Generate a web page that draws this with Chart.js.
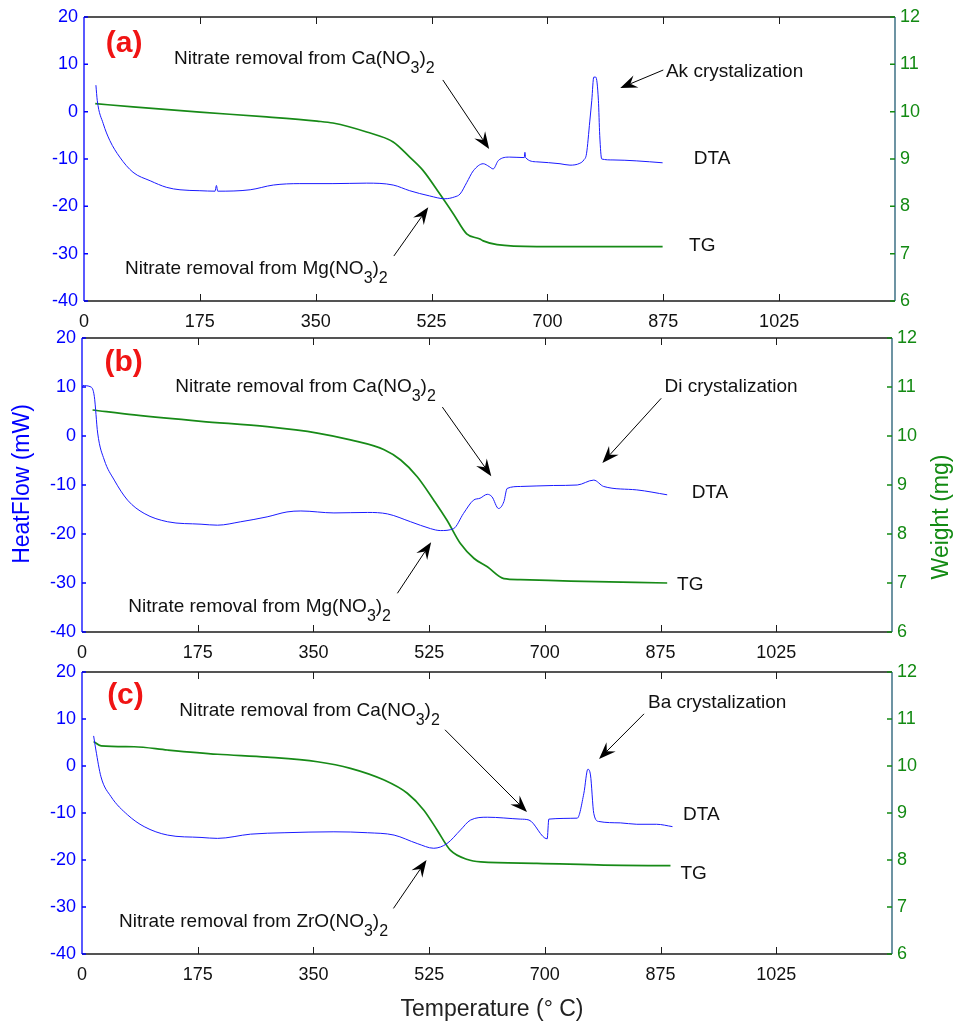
<!DOCTYPE html>
<html><head><meta charset="utf-8">
<script src="https://cdn.jsdelivr.net/npm/chart.js@4.4.1/dist/chart.umd.min.js"></script>
<style>
html,body{margin:0;padding:0;background:#fff;}
#wrap{position:relative;width:954px;height:1022px;background:#fff;}
canvas{position:absolute;left:0;top:0;}
</style></head><body>
<div id="wrap">
<canvas id="ca" width="954" height="1022"></canvas>
<canvas id="cb" width="954" height="1022"></canvas>
<canvas id="cc" width="954" height="1022"></canvas>
</div>
<script>
// ---------- data ----------
// Panel (a)
const tempDtaA = [18,20,29,39,54,74,100,125,145,175,198,200,202,251,286,326,376,427,467,492,522,545,560,568,578,588,603,612,618,626,643,665,666,667,684,719,734,749,755,759,764,767,770,773,777,779,782,799,835,874];
const dtaA     = [5.6,2.4,-2.5,-6.1,-9.6,-12.8,-14.6,-16.0,-16.5,-16.7,-16.8,-15.6,-16.8,-16.5,-15.5,-15.2,-15.2,-15.1,-15.5,-16.7,-17.8,-18.4,-18.0,-17.4,-15.0,-12.5,-11.0,-11.6,-12.1,-10.3,-9.6,-9.7,-8.6,-9.7,-10.6,-11.0,-11.3,-10.9,-10.2,-8.9,-2.0,2.4,7.3,7.3,2.4,-5.0,-10.0,-10.2,-10.4,-10.8];
const tempTgA  = [17,74,175,276,352,376,427,467,492,512,537,558,578,598,603,624,684,874];
const tgA      = [10.17,10.10,9.99,9.89,9.80,9.76,9.57,9.36,9.04,8.76,8.27,7.84,7.42,7.31,7.27,7.19,7.15,7.15];
// Panel (b)
const tempDtaB = [1,13.6,18.6,23.7,33.7,48.8,69,94,129.5,180,205,240,280,310,331,381,432,462,497,527,542,562,577,592,602,613,620,630,638,643,663,713,749,774,789,839,885];
const dtaB     = [10.3,10.0,8.1,0.6,-4.9,-9.0,-13.1,-15.8,-17.5,-18.0,-18.2,-17.5,-16.5,-15.5,-15.3,-15.7,-15.6,-15.9,-17.5,-18.9,-19.3,-18.9,-15.8,-13.1,-12.7,-11.9,-12.4,-14.8,-13.4,-10.7,-10.3,-10.1,-10.0,-9.0,-10.3,-11.0,-12.0];
const tempTgB  = [16,79,180,280,356,406,457,482,507,532,552,572,593,613,638,663,739,885];
const tgB      = [10.53,10.43,10.30,10.19,10.06,9.92,9.72,9.51,9.17,8.69,8.28,7.81,7.50,7.33,7.09,7.07,7.04,7.00];
// Panel (c)
const tempDtaC = [17.6,21,28.7,43.8,69,94,129.5,180,205,255,305.6,381,432,472,507,532,552,572.5,587.6,613,663,676,703.5,706,749,759,765,769,774,781.5,814,839,869,893];
const dtaC     = [6.4,3.4,-2.3,-6.5,-10.4,-12.9,-14.7,-15.2,-15.4,-14.5,-14.2,-14.0,-14.2,-14.7,-16.5,-17.5,-16.5,-13.6,-11.5,-10.9,-11.3,-11.5,-15.5,-11.3,-11.1,-5.8,-0.7,-1.9,-10.1,-11.8,-12.1,-12.4,-12.4,-12.9];
const tempTgC  = [17.6,29,79,129.5,205,280,356,406,457,492,517,537,557,583,603,688,789,890];
const tgC      = [10.52,10.43,10.41,10.34,10.25,10.19,10.09,9.95,9.70,9.42,9.06,8.64,8.21,8.01,7.96,7.93,7.89,7.88];

// ticks
const xTickValues  = [0,175,350,525,700,875,1050,1225];
const xTickLabels  = ['0','175','350','525','700','875','1025',''];
const heatTicks    = [-40,-30,-20,-10,0,10,20];
const weightTicks  = [6,7,8,9,10,11,12];

// annotation texts ("_x" = subscript x)
const panelLabels = ['(a)','(b)','(c)'];
const textsA = ['Nitrate removal from Ca(NO_3)_2','Ak crystalization','DTA','TG','Nitrate removal from Mg(NO_3)_2'];
const textsB = ['Nitrate removal from Ca(NO_3)_2','Di crystalization','DTA','TG','Nitrate removal from Mg(NO_3)_2'];
const textsC = ['Nitrate removal from Ca(NO_3)_2','Ba crystalization','DTA','TG','Nitrate removal from ZrO(NO_3)_2'];
// annotation anchors in data units (temperature, heat flow) : label, then texts (left, baseline)
const anchorsA = [[33,12.6],[136,10.06],[879,7.3],[921,-11.1],[914,-29.5],[62,-34.4]];
const anchorsB = [[34,13.3],[141,9.0],[881,9.0],[922,-12.7],[900,-31.5],[70,-36.0]];
const anchorsC = [[38,13.2],[147,10.7],[856,12.4],[909,-11.5],[905,-24.1],[56,-34.3]];
// arrows: [fromT, fromHF, tipT, tipHF]
const arrowsA = [[542,6.7,612,-7.9],[875,8.8,810,5.0],[468,-30.5,520,-20.2]];
const arrowsB = [[545,5.9,619,-8.2],[876,7.7,787,-5.5],[477,-32.1,528,-21.7]];
const arrowsC = [[549,7.7,673,-9.8],[850,11.1,782,1.5],[471,-30.3,521,-20.0]];

// ---------- styling ----------
const FONT = "'Liberation Sans', Arial, Helvetica, sans-serif";
const BLUE = '#0000ff';
const LINEBLUE = '#1a1aff';
const GREEN = '#138a13';
const LINEGREEN = '#178a17';
const RIGHTAXIS = '#1f5a72';
const FRAME = '#1c1c1c';
const AXW = 60;   // fixed width of the y axes boxes
const AXH = 40;   // fixed height of the x axis box

function drawRich(ctx, str, x, y, size) {
  let cx = x;
  let i = 0;
  while (i < str.length) {
    if (str[i] === '_' && i + 1 < str.length) {
      ctx.font = (size - 3) + 'px ' + FONT;
      ctx.fillText(str[i+1], cx, y + 9);
      cx += ctx.measureText(str[i+1]).width;
      i += 2;
    } else {
      let j = i;
      while (j < str.length && str[j] !== '_') j++;
      const seg = str.slice(i, j);
      ctx.font = size + 'px ' + FONT;
      ctx.fillText(seg, cx, y);
      cx += ctx.measureText(seg).width;
      i = j;
    }
  }
}

function drawArrow(ctx, x1, y1, x2, y2) {
  const a = Math.atan2(y2 - y1, x2 - x1);
  const c = Math.cos(a), s = Math.sin(a);
  const L = 17, W = 6.5, N = 11;
  ctx.strokeStyle = '#000';
  ctx.lineWidth = 1;
  ctx.beginPath();
  ctx.moveTo(x1, y1);
  ctx.lineTo(x2 - N * c, y2 - N * s);
  ctx.stroke();
  ctx.fillStyle = '#000';
  ctx.beginPath();
  ctx.moveTo(x2, y2);
  ctx.lineTo(x2 - L * c - W * s, y2 - L * s + W * c);
  ctx.lineTo(x2 - N * c, y2 - N * s);
  ctx.lineTo(x2 - L * c + W * s, y2 - L * s - W * c);
  ctx.closePath();
  ctx.fill();
}

const decor = {
  id: 'decor',
  afterDraw(chart, args, opts) {
    const ctx = chart.ctx;
    const {left, right, top, bottom} = chart.chartArea;
    const xs = chart.scales.x, ys = chart.scales.y, y2 = chart.scales.y2;
    ctx.save();
    // frame
    ctx.lineWidth = 1.3;
    ctx.strokeStyle = FRAME;
    ctx.beginPath();
    ctx.moveTo(left, top); ctx.lineTo(right, top);
    ctx.moveTo(left, bottom); ctx.lineTo(right, bottom);
    ctx.stroke();
    ctx.strokeStyle = BLUE;
    ctx.beginPath(); ctx.moveTo(left, top); ctx.lineTo(left, bottom); ctx.stroke();
    ctx.strokeStyle = RIGHTAXIS;
    ctx.beginPath(); ctx.moveTo(right, top); ctx.lineTo(right, bottom); ctx.stroke();
    // x tick marks (inward, top & bottom)
    ctx.strokeStyle = FRAME; ctx.lineWidth = 1;
    ctx.beginPath();
    xTickValues.forEach(v => {
      if (v <= xs.min || v >= xs.max) return;
      const px = Math.round(xs.getPixelForValue(v)) + 0.5;
      ctx.moveTo(px, top); ctx.lineTo(px, top + 7);
      ctx.moveTo(px, bottom); ctx.lineTo(px, bottom - 7);
    });
    ctx.stroke();
    // y tick marks
    ctx.strokeStyle = BLUE; ctx.lineWidth = 1.5;
    ctx.beginPath();
    heatTicks.forEach(v => {
      const py = ys.getPixelForValue(v);
      ctx.moveTo(left, py); ctx.lineTo(left + 4, py);
    });
    ctx.stroke();
    ctx.strokeStyle = GREEN;
    ctx.beginPath();
    weightTicks.forEach(v => {
      const py = y2.getPixelForValue(v);
      ctx.moveTo(right, py); ctx.lineTo(right - 5, py);
    });
    ctx.stroke();
    // panel label
    const P = opts.panel;
    const lab = P.anchors[0];
    ctx.fillStyle = '#f01414';
    ctx.font = 'bold 30px ' + FONT;
    ctx.textBaseline = 'alphabetic';
    ctx.textAlign = 'left';
    ctx.fillText(P.label, xs.getPixelForValue(lab[0]), ys.getPixelForValue(lab[1]));
    // texts
    ctx.fillStyle = '#111';
    P.texts.forEach((t, i) => {
      const an = P.anchors[i + 1];
      drawRich(ctx, t, xs.getPixelForValue(an[0]), ys.getPixelForValue(an[1]), 19);
    });
    // arrows
    P.arrows.forEach(a => {
      drawArrow(ctx, xs.getPixelForValue(a[0]), ys.getPixelForValue(a[1]),
                     xs.getPixelForValue(a[2]), ys.getPixelForValue(a[3]));
    });
    // axis titles
    if (P.yTitles) {
      ctx.font = '23px ' + FONT;
      ctx.textAlign = 'center';
      ctx.textBaseline = 'middle';
      ctx.save();
      ctx.translate(23, 484);
      ctx.rotate(-Math.PI / 2);
      ctx.fillStyle = BLUE;
      ctx.fillText('HeatFlow (mW)', 0, 0);
      ctx.restore();
      ctx.save();
      ctx.translate(942, 517);
      ctx.rotate(-Math.PI / 2);
      ctx.fillStyle = GREEN;
      ctx.fillText('Weight (mg)', 0, 0);
      ctx.restore();
    }
    if (P.xTitle) {
      ctx.font = '23px ' + FONT;
      ctx.textAlign = 'center';
      ctx.textBaseline = 'middle';
      ctx.fillStyle = '#222';
      ctx.fillText('Temperature (° C)', 492, 1010);
    }
    ctx.restore();
  }
};

function pts(tArr, vArr) { return tArr.map((t, i) => ({x: t, y: vArr[i]})); }

function makeChart(id, P) {
  return new Chart(document.getElementById(id), {
    type: 'line',
    data: {
      datasets: [
        {data: pts(P.tDta, P.dta), yAxisID: 'y', borderColor: LINEBLUE, borderWidth: 1,
         pointRadius: 0, fill: false, cubicInterpolationMode: 'monotone'},
        {data: pts(P.tTg, P.tg), yAxisID: 'y2', borderColor: LINEGREEN, borderWidth: 1.7,
         pointRadius: 0, fill: false, cubicInterpolationMode: 'monotone'}
      ]
    },
    options: {
      responsive: false, animation: false, devicePixelRatio: 1, events: [],
      layout: {padding: {left: P.box[0] - AXW, top: P.box[1], right: 954 - P.box[2] - AXW, bottom: 1022 - P.box[3] - AXH}},
      plugins: {legend: {display: false}, tooltip: {enabled: false}, decor: {panel: P}},
      scales: {
        x: {
          type: 'linear', position: 'bottom', min: 0, max: 1225,
          grid: {display: false, drawTicks: false}, border: {display: false},
          afterBuildTicks: s => { s.ticks = xTickValues.map(v => ({value: v})); },
          afterFit: s => { s.height = AXH; },
          ticks: {autoSkip: false, maxRotation: 0, padding: 10, color: '#111',
                  font: {family: FONT, size: 18}, callback: (v, i) => xTickLabels[i]}
        },
        y: {
          type: 'linear', position: 'left', min: -40, max: 20,
          grid: {display: false, drawTicks: false}, border: {display: false},
          afterBuildTicks: s => { s.ticks = heatTicks.map(v => ({value: v})); },
          afterFit: s => { s.width = AXW; },
          ticks: {padding: 6, color: BLUE, font: {family: FONT, size: 18}}
        },
        y2: {
          type: 'linear', position: 'right', min: 6, max: 12,
          grid: {display: false, drawTicks: false}, border: {display: false},
          afterBuildTicks: s => { s.ticks = weightTicks.map(v => ({value: v})); },
          afterFit: s => { s.width = AXW; },
          ticks: {padding: 5, color: GREEN, font: {family: FONT, size: 18}}
        }
      }
    },
    plugins: [decor]
  });
}

makeChart('ca', {box: [84, 17, 895, 301], tDta: tempDtaA, dta: dtaA, tTg: tempTgA, tg: tgA,
  label: panelLabels[0], texts: textsA, anchors: anchorsA, arrows: arrowsA});
makeChart('cb', {box: [82, 338, 892, 632], tDta: tempDtaB, dta: dtaB, tTg: tempTgB, tg: tgB,
  label: panelLabels[1], texts: textsB, anchors: anchorsB, arrows: arrowsB, yTitles: true});
makeChart('cc', {box: [82, 672, 892, 954], tDta: tempDtaC, dta: dtaC, tTg: tempTgC, tg: tgC,
  label: panelLabels[2], texts: textsC, anchors: anchorsC, arrows: arrowsC, xTitle: true});
</script>
</body></html>
